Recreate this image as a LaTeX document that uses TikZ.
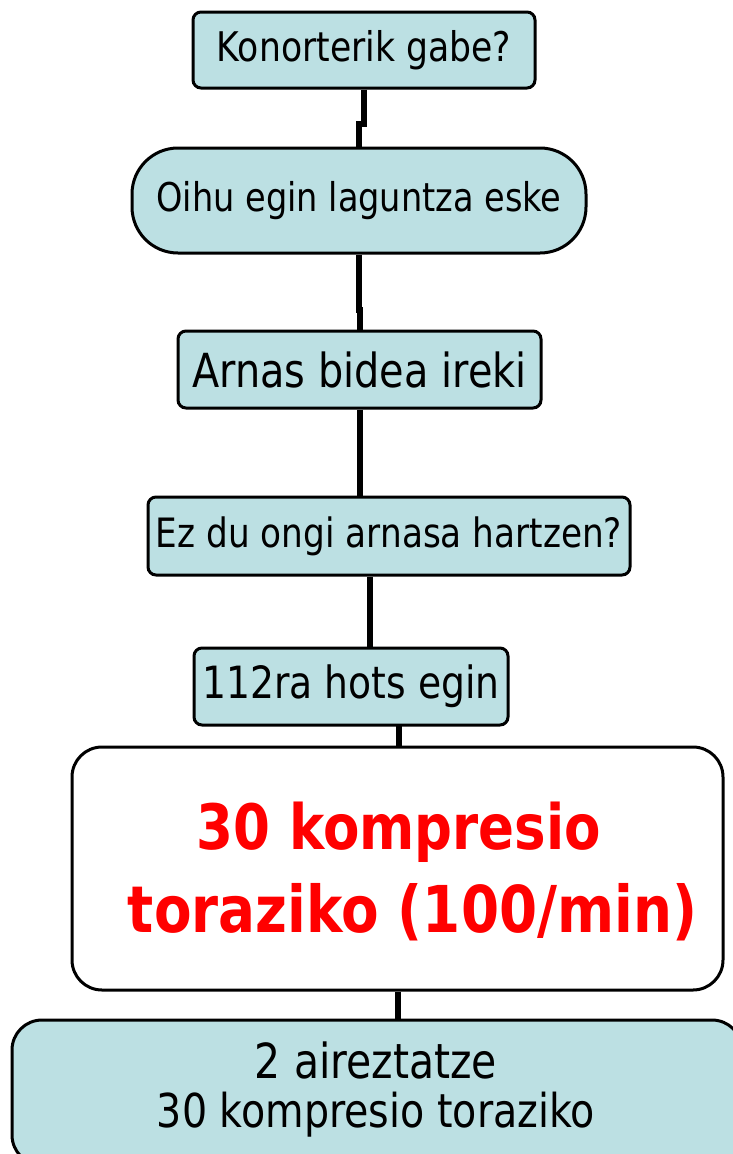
\documentclass[tikz,border=0pt]{standalone}
\usepackage{fontspec}
\setmainfont{DejaVu Sans}
\usepackage{graphicx}
\definecolor{boxblue}{HTML}{BCE0E3}
\definecolor{redtxt}{HTML}{FF0000}
\newcommand\fitw[2]{\scalebox{1}[1.18]{\resizebox{#1}{!}{#2}}}
\begin{document}
\begin{tikzpicture}[x=1pt,y=-1pt,
  box/.style={draw=black, line width=3pt, fill=boxblue, rounded corners=8pt, inner sep=0pt, align=center},
  conn/.style={draw=black, line width=6pt}]
\useasboundingbox (0,0) rectangle (733,1154);
\node[box, minimum width=342pt, minimum height=76pt] (n1) at (364,50) {\fitw{294pt}{Konorterik gabe?}};
\node[box, rounded corners=46pt, minimum width=454pt, minimum height=105pt] (n2) at (359,200.5) {\fitw{405pt}{Oihu egin laguntza eske}};
\node[box, minimum width=363pt, minimum height=77pt] (n3) at (359.5,369.5) {\fitw{334pt}{Arnas bidea ireki}};
\node[box, minimum width=482pt, minimum height=78pt] (n4) at (389,536) {\fitw{466pt}{Ez du ongi arnasa hartzen?}};
\node[box, minimum width=314pt, minimum height=77pt] (n5) at (351,686.5) {\fitw{297pt}{112ra hots egin}};
\node[box, fill=white, rounded corners=30pt, minimum width=651pt, minimum height=243pt] (n6) at (397.5,868.5) {};
\node[text=redtxt, font=\bfseries, inner sep=0pt] (t6a) at (399,832) {\fitw{404pt}{30 kompresio}};
\node[text=redtxt, font=\bfseries, inner sep=0pt] (t6b) at (412.5,912) {\fitw{569pt}{toraziko (100/min)}};
\node[box, rounded corners=30pt, minimum width=730pt, minimum height=145pt] (n7) at (377,1092.5) {};
\node[inner sep=0pt] (t7a) at (376,1060) {\fitw{242pt}{2 aireztatze}};
\node[inner sep=0pt] (t7b) at (376,1115) {\fitw{438pt}{30 kompresio toraziko}};
\coordinate (j1) at (359,124);
\coordinate (j2) at (360,310);
\coordinate (c4) at (370,0);
\draw[conn] (n1.south) |- (j1) -- (j1 |- n2.north);
\draw[conn] (n2.south) -- (n2.south |- j2) -| (j2 |- n3.north);
\draw[conn] (n3.south) -- (n3.south |- n4.north);
\draw[conn] (c4 |- n4.south) -- (c4 |- n5.north);
\draw[conn] (n6.north) ++(1.5,0) -- ++(0,-22);
\draw[conn] (n6.south) -- (n6.south |- n7.north);
\end{tikzpicture}
\end{document}
